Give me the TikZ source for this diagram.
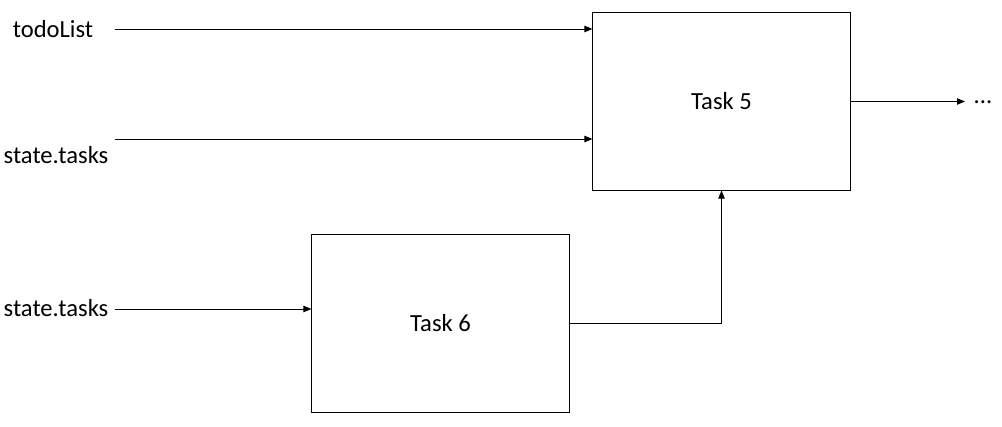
\documentclass[tikz,border=0pt]{standalone}
\usepackage{fontspec}
\setmainfont{Carlito}
\usetikzlibrary{arrows.meta}
\begin{document}
\begin{tikzpicture}[x=0.025cm,y=-0.025cm,
        task/.style={draw,line width=0.7pt,minimum width=6.425cm,minimum height=4.425cm,inner sep=0pt,font=\fontsize{17.5}{21}\selectfont},
        lbl/.style={inner sep=0pt,font=\fontsize{17.5}{21}\selectfont},
        flow/.style={line width=0.7pt,-{Triangle[length=0.2cm,width=0.16cm]}}]
            \useasboundingbox (0,0) rectangle (1002,427);
            \node[task] (task5) at (721.5,101.5) {Task 5};
            \node[task] (task6) at (440.5,323.5) {Task 6};
            \node[lbl] (todo) at (53,29) {todoList};
            \node[lbl] (tasksA) at (56,155) {state.tasks};
            \node[lbl] (tasksB) at (56,308) {state.tasks};
            \node[lbl] (more) at (983,102) {...};
            \coordinate (inA) at (115,29);
            \coordinate (inB) at (115,139);
            \coordinate (inC) at (115,309);
            \coordinate (out) at (965,101.5);
            \draw[flow] (inA) -- (task5.west |- inA);
            \draw[flow] (inB) -- (task5.west |- inB);
            \draw[flow] (inC) -- (task6.west |- inC);
            \draw[flow] (task5.east) -- (out);
            \draw[flow] (task6.east) -| (task5.south);
        \end{tikzpicture}
\end{document}
